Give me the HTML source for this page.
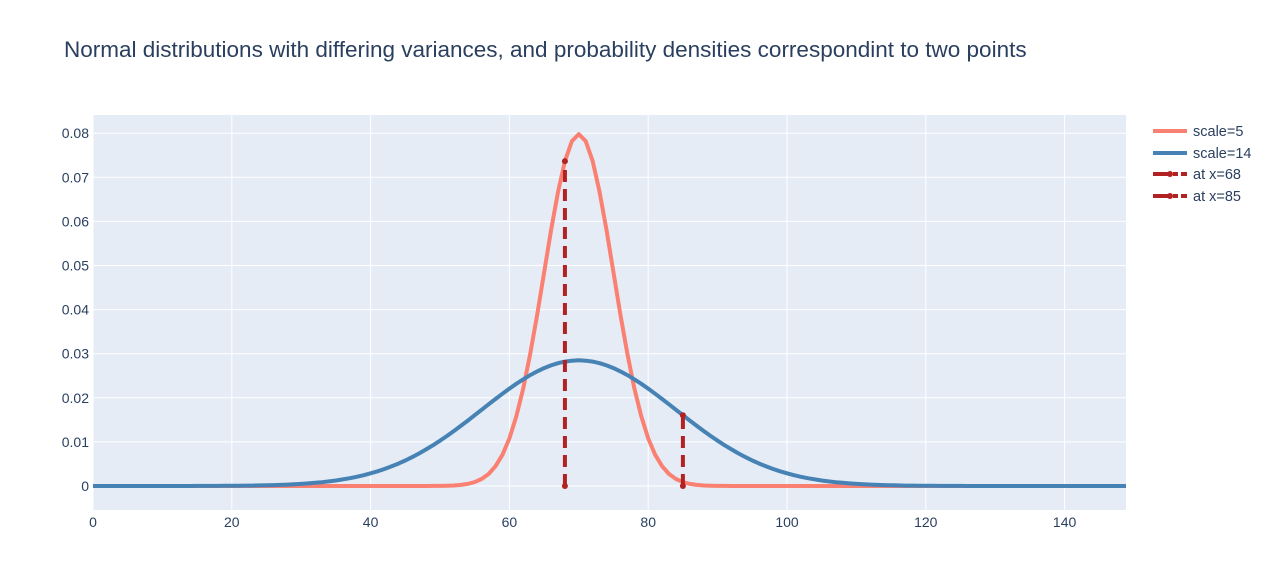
<!DOCTYPE html>
<html><head><meta charset="utf-8"><style>
body{margin:0;background:#fff;}
svg text{font-family:"Liberation Sans",sans-serif;fill:#2a3f5f;}
</style></head><body>
<svg id="s" width="1280" height="565" xmlns="http://www.w3.org/2000/svg">
<text x="64" y="57" style="font-size:22.5px">Normal distributions with differing variances, and probability densities correspondint to two points</text>
<rect x="93" y="115" width="1033" height="395" fill="#e5ecf6"/>
<g id="grid" stroke="#fff" stroke-width="1"></g>
<g id="ticks" style="font-size:14px"></g>
<g id="data" clip-path="url(#c)"></g>
<clipPath id="c"><rect x="93" y="115" width="1033" height="395"/></clipPath>
<g style="font-size:14.5px">
<line x1="1153" y1="131" x2="1187" y2="131" stroke="#fa8072" stroke-width="4"/>
<text x="1193" y="136">scale=5</text>
<line x1="1153" y1="153" x2="1187" y2="153" stroke="#4682b4" stroke-width="4"/>
<text x="1193" y="158">scale=14</text>
<line x1="1153" y1="174" x2="1187" y2="174" stroke="#b22222" stroke-width="4" stroke-dasharray="16,4,5,3"/>
<circle cx="1170" cy="174" r="3" fill="#b22222"/>
<text x="1193" y="179">at x=68</text>
<line x1="1153" y1="196" x2="1187" y2="196" stroke="#b22222" stroke-width="4" stroke-dasharray="16,4,5,3"/>
<circle cx="1170" cy="196" r="3" fill="#b22222"/>
<text x="1193" y="201">at x=85</text>
</g>
</svg>
<script>
var X=function(v){return 93+v*6.94;},Y=function(v){return 486-v*4410;};
var ns="http://www.w3.org/2000/svg";
function el(p,t,a,txt){var e=document.createElementNS(ns,t);for(var k in a)e.setAttribute(k,a[k]);if(txt!=null)e.textContent=txt;document.getElementById(p).appendChild(e);return e;}
for(var i=0;i<=140;i+=20){el("grid","line",{x1:X(i),x2:X(i),y1:115,y2:510});el("ticks","text",{x:X(i),y:527,"text-anchor":"middle"},String(i));}
for(var j=0;j<=8;j++){var v=j/100;el("grid","line",{x1:93,x2:1126,y1:Y(v),y2:Y(v)});el("ticks","text",{x:89,y:Y(v)+5,"text-anchor":"end"},j==0?"0":v.toFixed(2));}
function pdf(x,s){return Math.exp(-0.5*Math.pow((x-70)/s,2))/(s*Math.sqrt(2*Math.PI));}
function path(s){var d="";for(var k=0;k<=150;k++){var x=k;d+=(k?"L":"M")+X(x).toFixed(1)+","+Y(pdf(x,s)).toFixed(1);}return d;}
el("data","path",{d:path(5),fill:"none",stroke:"#fa8072","stroke-width":4,"stroke-linejoin":"round"});
el("data","path",{d:path(14),fill:"none",stroke:"#4682b4","stroke-width":4,"stroke-linejoin":"round"});
[[68,5],[85,14]].forEach(function(p){var y=pdf(p[0],p[1]);
el("data","line",{x1:X(p[0]),x2:X(p[0]),y1:Y(0),y2:Y(y),stroke:"#b22222","stroke-width":4,"stroke-dasharray":"12,7"});
el("data","circle",{cx:X(p[0]),cy:Y(0),r:3,fill:"#b22222"});el("data","circle",{cx:X(p[0]),cy:Y(y),r:3,fill:"#b22222"});});
</script>
</body></html>
